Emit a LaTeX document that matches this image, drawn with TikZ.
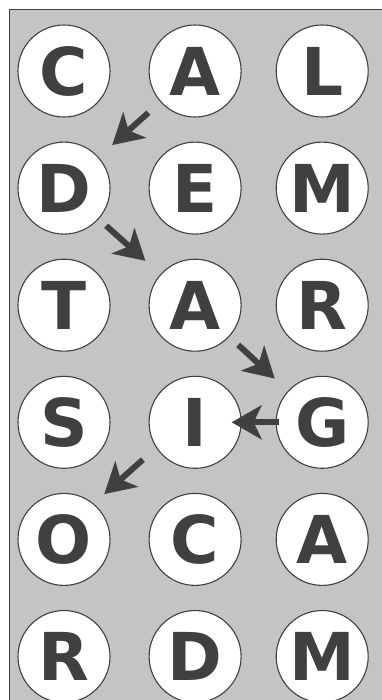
\documentclass[tikz,border=0pt]{standalone}
\usepackage{fontspec}
\setsansfont{DejaVu Sans}
\usepackage{xcolor}
\usetikzlibrary{arrows.meta,positioning}

\definecolor{boardgray}{HTML}{C4C4C4}
\definecolor{inkgray}{HTML}{404040}

\begin{document}
\begin{tikzpicture}[x=1pt,y=-1pt,
tile/.style={circle,draw=inkgray,line width=1.1pt,fill=white,minimum size=92pt,inner sep=0pt,font=\sffamily\bfseries\fontsize{66}{66}\selectfont,text=inkgray},
arrow/.style={-{Stealth[length=30pt,width=34pt,inset=8pt]},line width=6pt,draw=inkgray,shorten <=16pt,shorten >=18pt}
]
\useasboundingbox (0,0) rectangle (382,700);
\clip (0,0) rectangle (382,700);
\draw[fill=boardgray,draw=inkgray,line width=1pt] (9,10) rectangle (400,720);

% letter grid
\node[tile] (n11) at (64,71) {C};
\node[tile,right=38pt of n11] (n12) {A};
\node[tile,right=34pt of n12] (n13) {L};
\node[tile,below=24pt of n11] (n21) {D};
\node[tile,right=38pt of n21] (n22) {E};
\node[tile,right=34pt of n22] (n23) {M};
\node[tile,below=24pt of n21] (n31) {T};
\node[tile,right=38pt of n31] (n32) {A};
\node[tile,right=34pt of n32] (n33) {R};
\node[tile,below=24pt of n31] (n41) {S};
\node[tile,right=38pt of n41] (n42) {I};
\node[tile,right=34pt of n42] (n43) {G};
\node[tile,below=24pt of n41] (n51) {O};
\node[tile,right=38pt of n51] (n52) {C};
\node[tile,right=34pt of n52] (n53) {A};
\node[tile,below=24pt of n51] (n61) {R};
\node[tile,right=38pt of n61] (n62) {D};
\node[tile,right=34pt of n62] (n63) {M};

% path through the word
\draw[arrow] (n12) -- (n21);
\draw[arrow,shorten <=10pt,shorten >=20pt] (n21) -- (n32);
\draw[arrow,shorten <=12pt] (n32) -- (n43);
\draw[arrow,shorten <=-3pt,shorten >=-10pt] (n43) -- (n42);
\draw[arrow,shorten <=62pt,shorten >=62pt] ([xshift=-6pt,yshift=4pt]n42.center) -- ([xshift=-6pt,yshift=4pt]n51.center);
\end{tikzpicture}
\end{document}
